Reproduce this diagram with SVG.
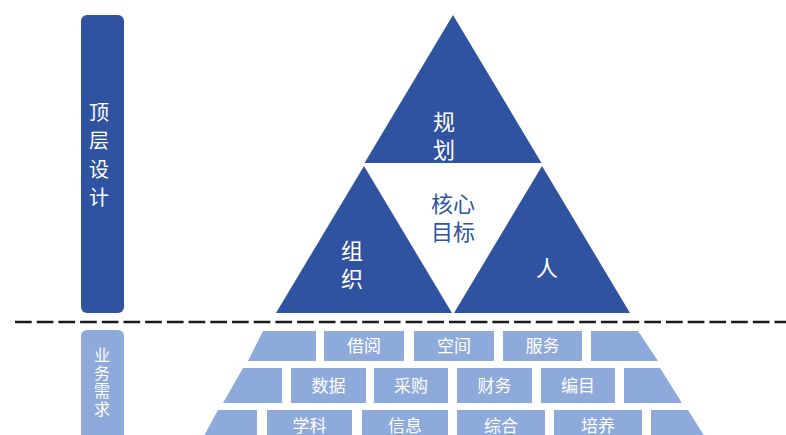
<svg xmlns="http://www.w3.org/2000/svg" width="786" height="435" viewBox="0 0 786 435">
<style>
.dk{fill:#2f53a1}
.lt{fill:#8eaadb}
text{font-family:"Noto Sans CJK SC","Microsoft YaHei",sans-serif;text-anchor:middle}
.w{fill:#ffffff}
.tri{font-size:22px;fill:#ffffff}
.brk{font-size:17px;fill:#ffffff}
</style>
<rect width="786" height="435" fill="#ffffff"/>
<g id="top-label">
<rect class="dk" x="81" y="15" width="43" height="298" rx="6"/>
<text class="w" font-size="20" x="99" y="120">顶</text>
<text class="w" font-size="20" x="99" y="148">层</text>
<text class="w" font-size="20" x="99" y="177">设</text>
<text class="w" font-size="20" x="99" y="205">计</text>
</g>
<g id="tri-plan">
<polygon class="dk" points="453,15 541.5,163 364.5,163"/>
<text class="tri" x="444" y="130">规</text>
<text class="tri" x="444" y="158">划</text>
</g>
<g id="tri-core">
<text font-size="22" fill="#2f53a1" x="453" y="212">核心</text>
<text font-size="22" fill="#2f53a1" x="453" y="240">目标</text>
</g>
<g id="tri-org">
<polygon class="dk" points="364,166 452,313 276,313"/>
<text class="tri" x="352" y="259">组</text>
<text class="tri" x="352" y="287">织</text>
</g>
<g id="tri-people">
<polygon class="dk" points="542,166 630,313 454,313"/>
<text class="tri" x="547" y="276">人</text>
</g>
<g id="connectors">
<line x1="15" y1="322" x2="786" y2="322" stroke="#1a1a1a" stroke-width="2.5" stroke-dasharray="16.7 5"/>
</g>
<g id="bottom-label">
<rect class="lt" x="81" y="330" width="43" height="120" rx="6"/>
<text class="w" font-size="16" x="102" y="361">业</text>
<text class="w" font-size="16" x="102" y="379">务</text>
<text class="w" font-size="16" x="102" y="397">需</text>
<text class="w" font-size="16" x="102" y="415">求</text>
</g>
<g id="row1">
<polygon class="lt" points="263,331 316,331 316,361 248,361"/>
<g id="b-jieyue"><rect class="lt" x="324" y="331" width="80" height="30"/><text class="brk" x="364" y="352">借阅</text></g>
<g id="b-kongjian"><rect class="lt" x="414" y="331" width="80" height="30"/><text class="brk" x="454" y="352">空间</text></g>
<g id="b-fuwu"><rect class="lt" x="503" y="331" width="79" height="30"/><text class="brk" x="542.5" y="352">服务</text></g>
<polygon class="lt" points="591,331 638,331 658,361 591,361"/>
</g>
<g id="row2">
<polygon class="lt" points="243,368 282,368 282,403 223,403"/>
<g id="b-shuju"><rect class="lt" x="291" y="368" width="75" height="35"/><text class="brk" x="328.5" y="392">数据</text></g>
<g id="b-caigou"><rect class="lt" x="374" y="368" width="74" height="35"/><text class="brk" x="411" y="392">采购</text></g>
<g id="b-caiwu"><rect class="lt" x="457" y="368" width="75" height="35"/><text class="brk" x="494.5" y="392">财务</text></g>
<g id="b-bianmu"><rect class="lt" x="541" y="368" width="74" height="35"/><text class="brk" x="578" y="392">编目</text></g>
<polygon class="lt" points="624,368 660,368 682,403 624,403"/>
</g>
<g id="row3">
<polygon class="lt" points="218,410 257,410 257,445 199,445"/>
<g id="b-xueke"><rect class="lt" x="267" y="410" width="85" height="35"/><text class="brk" x="309.5" y="432">学科</text></g>
<g id="b-xinxi"><rect class="lt" x="362" y="410" width="86" height="35"/><text class="brk" x="405" y="432">信息</text></g>
<g id="b-zonghe"><rect class="lt" x="457" y="410" width="88" height="35"/><text class="brk" x="501" y="432">综合</text></g>
<g id="b-peiyang"><rect class="lt" x="554" y="410" width="88" height="35"/><text class="brk" x="598" y="432">培养</text></g>
<polygon class="lt" points="651,410 688,410 710,445 651,445"/>
</g>
</svg>
